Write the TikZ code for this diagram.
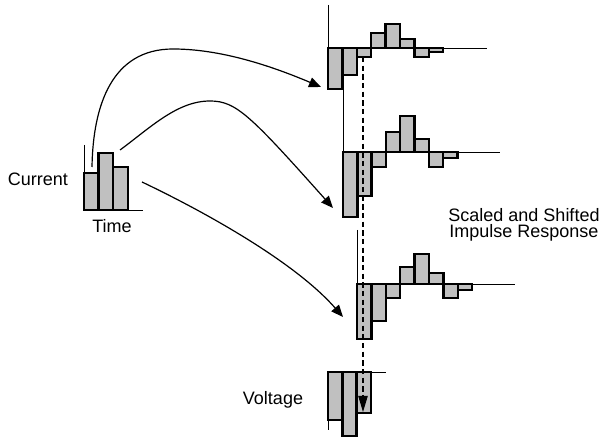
\documentclass[tikz,border=0pt]{standalone}
\usepackage{fontspec}
\setmainfont{Liberation Sans}
\usetikzlibrary{arrows.meta}
\definecolor{barfill}{RGB}{192,192,192}
\begin{document}
\begin{tikzpicture}[x=0.75pt,y=-0.75pt,
  bar/.style={draw=black,line width=1.9pt,fill=barfill},
  axis/.style={draw=black,line width=0.7pt},
  conn/.style={draw=black,line width=0.9pt,-{Triangle[length=9pt,width=7.5pt]}},
  shiftline/.style={draw=black,line width=0.8pt,dash pattern=on 4pt off 2.5pt,-{Triangle[length=12pt,width=7pt]}},
  lbl/.style={font=\fontsize{13.5}{16}\selectfont,anchor=base,inner sep=0pt}]
\useasboundingbox (0,0) rectangle (604,438);

% axes
\draw[axis] (84,145) -- (84,210) -- (143,210);
\draw[axis] (328,5) -- (328,48) -- (487,48);
\draw[axis] (343,89) -- (343,152) -- (500,152);
\draw[axis] (357,230) -- (357,284) -- (515,284);
\draw[axis] (328,430) -- (328,372) -- (386,372);

% current pulses
\foreach \h [count=\i from 0] in {173,153,167}
  \draw[bar] ({84+14.6*\i},210) rectangle ({84+14.6*(\i+1)},\h);

% impulse responses
\foreach \h [count=\i from 0] in {89,75,57,33,24,39,57,52}
  \draw[bar] ({328+14.4*\i},48) rectangle ({328+14.4*(\i+1)},\h);
\foreach \h [count=\i from 0] in {217,196,167,132,116,139,167,158}
  \draw[bar] ({343+14.3*\i},152) rectangle ({343+14.3*(\i+1)},\h);
\foreach \h [count=\i from 0] in {339,321,298,267,254,273,298,290}
  \draw[bar] ({357+14.4*\i},284) rectangle ({357+14.4*(\i+1)},\h);

% voltage
\foreach \h [count=\i from 0] in {420,436,413}
  \draw[bar] ({328+14.3*\i},372) rectangle ({328+14.3*(\i+1)},\h);

% named end points
\coordinate (s1) at (92,167);
\coordinate (e1) at (321,87);
\coordinate (s2) at (120,150);
\coordinate (e2) at (333,208);
\coordinate (s3) at (142,182);
\coordinate (e3) at (343,317);
\coordinate (ds) at (363,57);
\coordinate (de) at (363,412);

% connectors
\draw[conn] (s1) .. controls (93,105) and (112,49) .. (173,49)
  .. controls (215,49) and (262,62) .. (e1);
\draw[conn] (s2) .. controls (150,128) and (177,101) .. (210,101)
  .. controls (236,101) and (250,115) .. (e2);
\draw[conn] (s3) .. controls (205,212) and (295,262) .. (e3);
\draw[shiftline] (ds) -- (de);

% labels
\node[lbl] (cur) at (38,186) {Current};
\node[lbl] (time) at (112,233) {Time};
\node[lbl] (volt) at (273,405) {Voltage};
\node[lbl] (ssr1) at (524,222) {Scaled and Shifted};
\node[lbl] (ssr2) at (524,238) {Impulse Response};
\end{tikzpicture}
\end{document}
